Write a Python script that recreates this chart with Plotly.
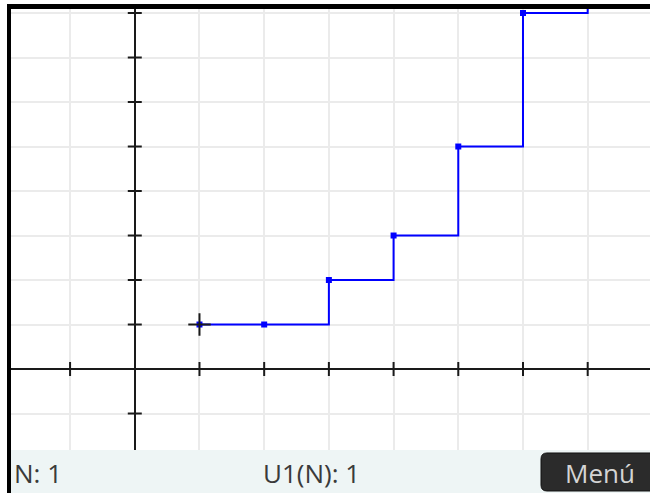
import plotly.graph_objects as go

W, H = 650, 493

# sequence U1(N) (Fibonacci), cursor at N = 1
n_values = [1, 2, 3, 4, 5, 6, 7]
u1_values = [1, 1, 2, 3, 5, 8, 13]
x_ticks = [-1, 1, 2, 3, 4, 5, 6, 7]
y_ticks = [-1, 1, 2, 3, 4, 5, 6, 7, 8]
cursor_n = 1
cursor_u = 1

BLUE = "#0000FF"
AXIS = "#1A1A1A"
GRID = "#EBEBEB"
BAR_BG = "#EEF5F5"
TEXT = "#3A3A3A"


def px_x(p):
    return p / W


def px_y(p):
    return (H - p) / H


def rounded_rect(x0, y0, x1, y1, r):
    # pixel coords -> paper path with rounded corners
    X = lambda v: f"{px_x(v):.5f}"
    Y = lambda v: f"{px_y(v):.5f}"
    return " ".join([
        f"M {X(x0 + r)},{Y(y0)}",
        f"L {X(x1 - r)},{Y(y0)}",
        f"Q {X(x1)},{Y(y0)} {X(x1)},{Y(y0 + r)}",
        f"L {X(x1)},{Y(y1 - r)}",
        f"Q {X(x1)},{Y(y1)} {X(x1 - r)},{Y(y1)}",
        f"L {X(x0 + r)},{Y(y1)}",
        f"Q {X(x0)},{Y(y1)} {X(x0)},{Y(y1 - r)}",
        f"L {X(x0)},{Y(y0 + r)}",
        f"Q {X(x0)},{Y(y0)} {X(x0 + r)},{Y(y0)} Z",
    ])


fig = go.Figure()

# axis tick marks on the zero lines
fig.add_trace(
    go.Scatter(
        x=x_ticks,
        y=[0] * len(x_ticks),
        mode="markers",
        marker={"symbol": "line-ns", "size": 10, "line": {"color": AXIS, "width": 2}},
        hoverinfo="skip",
    )
)
fig.add_trace(
    go.Scatter(
        x=[0] * len(y_ticks),
        y=y_ticks,
        mode="markers",
        marker={"symbol": "line-ew", "size": 10, "line": {"color": AXIS, "width": 2}},
        hoverinfo="skip",
    )
)

# step plot of the sequence
fig.add_trace(
    go.Scatter(
        x=n_values,
        y=u1_values,
        mode="lines+markers",
        line={"color": BLUE, "width": 2, "shape": "hv"},
        marker={"symbol": "square", "size": 6, "color": BLUE},
    )
)

# trace cursor
fig.add_trace(
    go.Scatter(
        x=[cursor_n],
        y=[cursor_u],
        mode="markers",
        marker={"symbol": "cross-thin", "size": 16, "line": {"color": AXIS, "width": 2}},
        hoverinfo="skip",
    )
)

fig.update_layout(
    width=W,
    height=H,
    autosize=False,
    margin={"l": 0, "r": 0, "t": 0, "b": 0},
    paper_bgcolor="white",
    plot_bgcolor="white",
    showlegend=False,
    font={"family": "Open Sans, DejaVu Sans, sans-serif", "size": 26, "color": TEXT},
)
axis_style = dict(
    tick0=0,
    dtick=1,
    showgrid=True,
    gridcolor=GRID,
    gridwidth=2,
    zeroline=True,
    zerolinecolor=AXIS,
    zerolinewidth=2,
    showticklabels=False,
    ticks="",
    showline=False,
    fixedrange=True,
)
fig.update_xaxes(domain=[px_x(11), 1], range=[-1.913, 7.963], **axis_style)
fig.update_yaxes(domain=[px_y(450), px_y(9)], range=[-1.82, 8.09], **axis_style)

shapes = [
    # status bar
    {"type": "rect", "xref": "paper", "yref": "paper", "x0": px_x(11), "x1": 1,
     "y0": 0, "y1": px_y(450), "fillcolor": BAR_BG, "line": {"width": 0}, "layer": "above"},
    # black frame (top and left)
    {"type": "rect", "xref": "paper", "yref": "paper", "x0": px_x(7), "x1": 1,
     "y0": px_y(9), "y1": px_y(4), "fillcolor": "black", "line": {"width": 0}, "layer": "above"},
    {"type": "rect", "xref": "paper", "yref": "paper", "x0": px_x(7), "x1": px_x(11),
     "y0": 0, "y1": px_y(4), "fillcolor": "black", "line": {"width": 0}, "layer": "above"},
    # menu button
    {"type": "path", "xref": "paper", "yref": "paper",
     "path": rounded_rect(541, 453, 660, 491, 6),
     "fillcolor": "#2B2B2B", "line": {"color": "#111111", "width": 1}, "layer": "above"},
]
fig.update_layout(shapes=shapes)

fig.add_annotation(text="N: 1", xref="paper", yref="paper", x=px_x(12), y=px_y(473),
                   xanchor="left", yanchor="middle", showarrow=False)
fig.add_annotation(text="U1(N): 1", xref="paper", yref="paper", x=px_x(311), y=px_y(473),
                   xanchor="center", yanchor="middle", showarrow=False)
fig.add_annotation(text="Menú", xref="paper", yref="paper", x=px_x(600), y=px_y(473),
                   xanchor="center", yanchor="middle", showarrow=False,
                   font={"size": 26, "color": "#D4D4D4"})

fig.write_html(
    "out.html",
    config={"displayModeBar": False},
    post_script="document.body.style.margin='0px';",
)
